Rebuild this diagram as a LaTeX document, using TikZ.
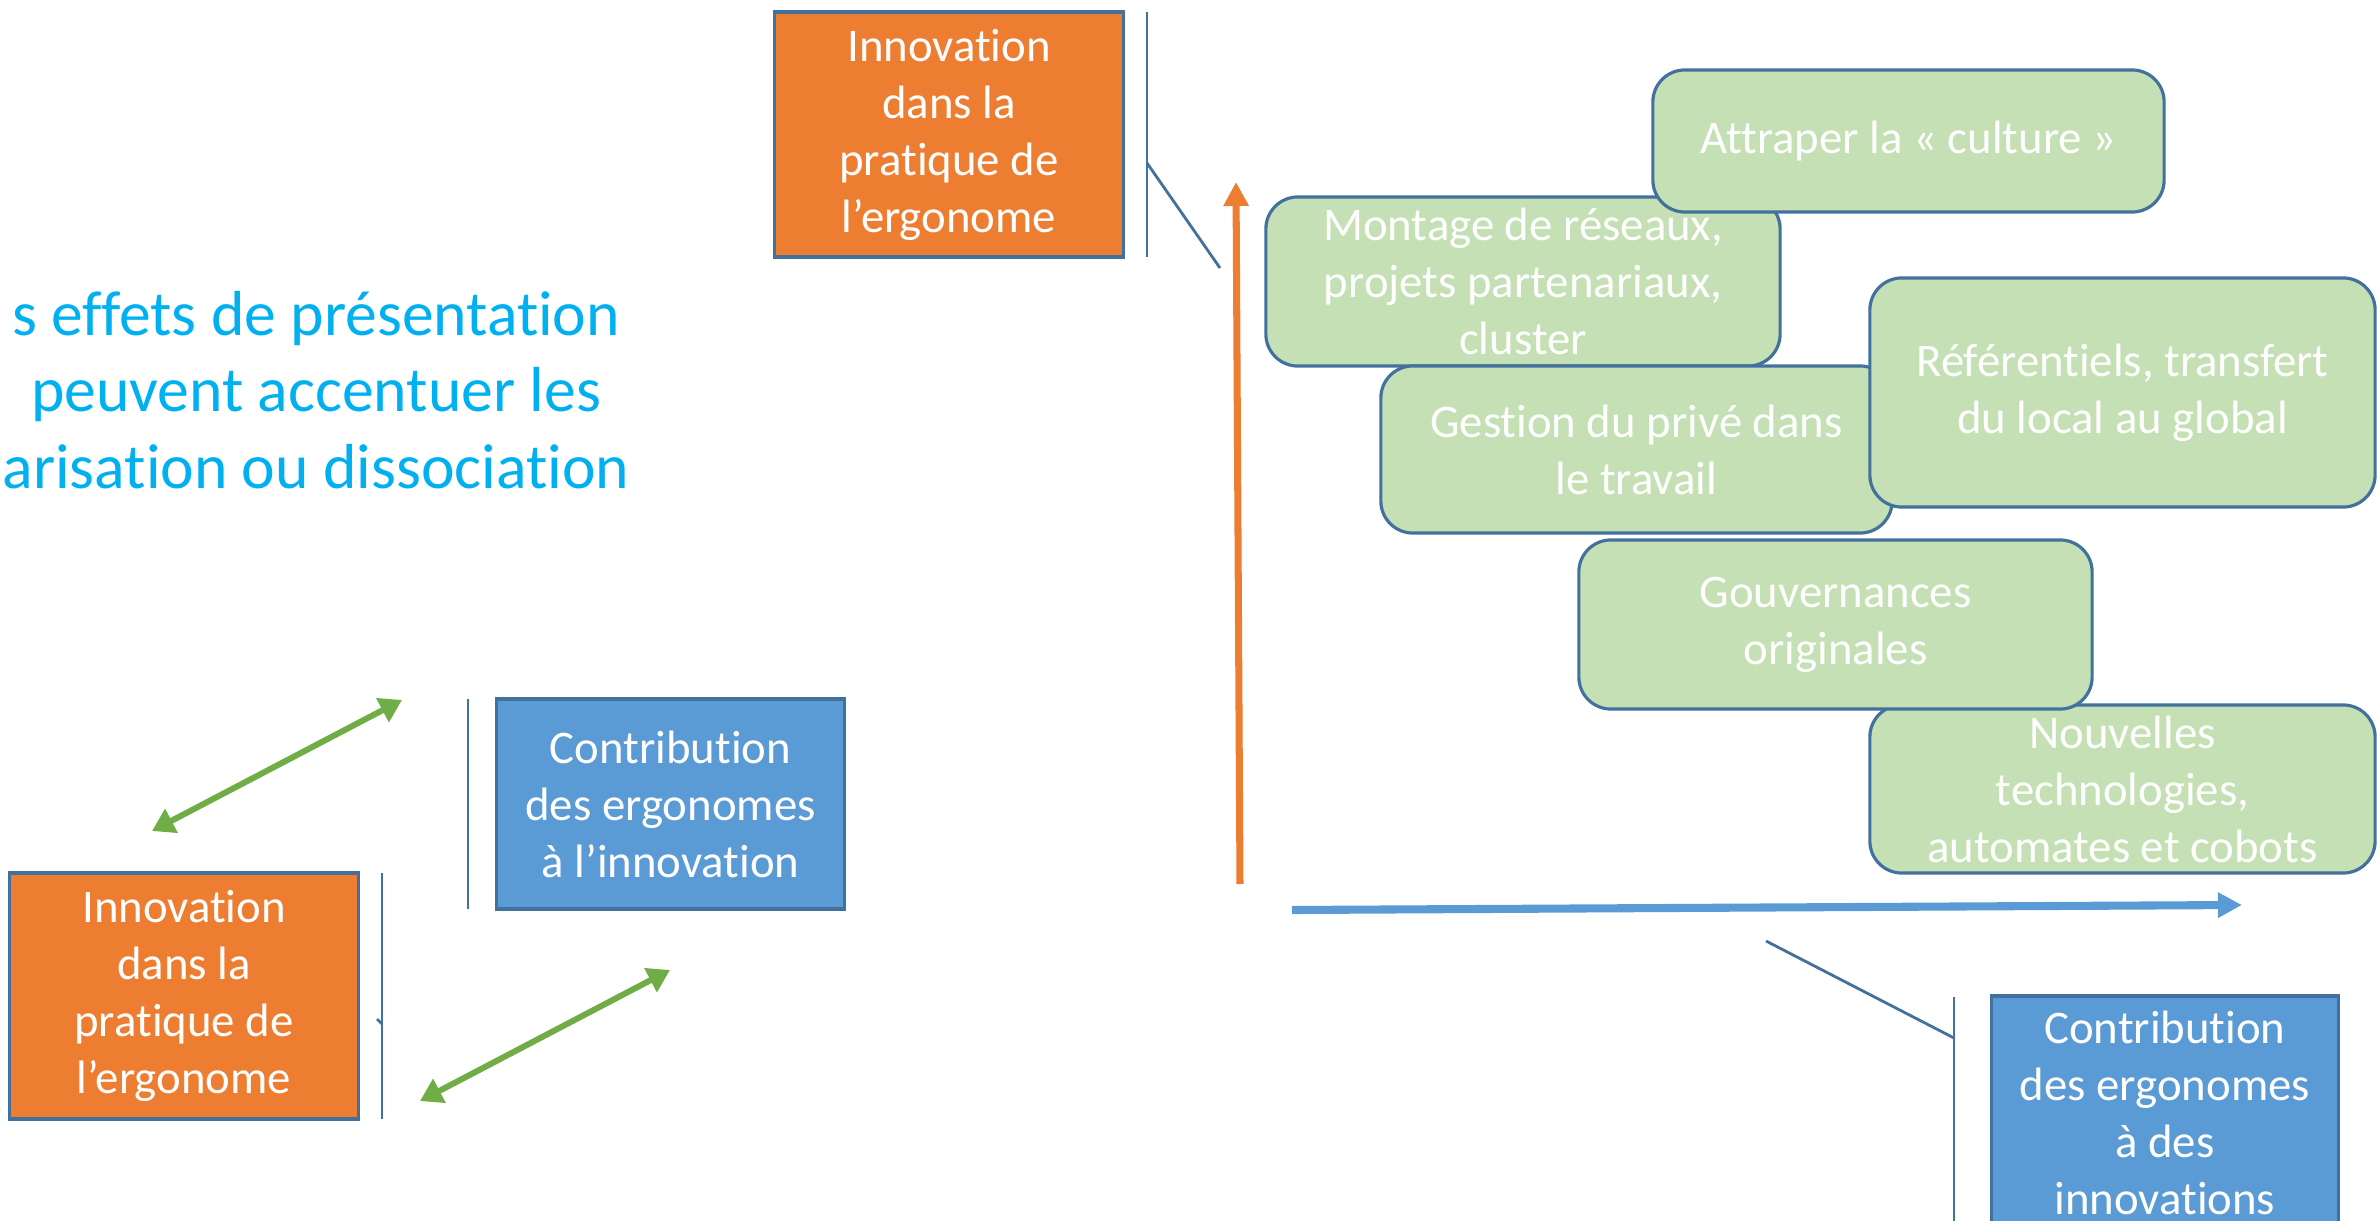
\documentclass[tikz,border=0pt]{standalone}
\usepackage{fontspec}
\setmainfont{Carlito}[Ligatures=NoCommon]
\usetikzlibrary{arrows.meta}

\definecolor{orangebox}{HTML}{ED7D31}
\definecolor{bluebox}{HTML}{5B9BD5}
\definecolor{greenbox}{HTML}{C5E0B4}
\definecolor{edgeblue}{HTML}{41719C}
\definecolor{arrowgreen}{HTML}{70AD47}
\definecolor{titleblue}{HTML}{00B0F0}

\tikzset{
  boxtext/.style={font=\fontsize{13.3}{16.2}\selectfont, text=white, align=center, inner sep=0pt},
  plainbox/.style={boxtext, rectangle, draw=edgeblue, line width=0.9pt},
  innobox/.style={plainbox, fill=orangebox, minimum width=3.48cm, minimum height=2.46cm},
  contribbox/.style={plainbox, fill=bluebox, minimum width=3.47cm},
  themebox/.style={boxtext, rectangle, rounded corners=0.32cm, draw=edgeblue, line width=0.9pt,
    fill=greenbox, minimum width=5.1cm},
  bar/.style={draw=edgeblue, line width=0.8pt},
  greenarrow/.style={draw=arrowgreen, line width=1.7pt,
    {Triangle[length=0.22cm,width=0.26cm]}-{Triangle[length=0.22cm,width=0.26cm]}},
}

\begin{document}
\begin{tikzpicture}[x=0.01cm, y=-0.01cm]
  \useasboundingbox (0,0) rectangle (2377,1221);

  % title
  \node[font=\fontsize{18.1}{21.8}\selectfont, text=titleblue, align=center, inner sep=0pt]
    (title) at (316,390) {s effets de présentation\\ peuvent accentuer les\\arisation ou dissociation};

  % left part
  \node[innobox] (innoleft) at (184,996) {Innovation\\dans la\\pratique de\\l’ergonome};
  \node[contribbox, minimum height=2.10cm] (contribleft) at (670.5,804) {Contribution\\des ergonomes\\à l’innovation};
  \draw[bar] (382,873) -- (382,1119);
  \draw[bar] (382,1024) -- (377,1019);
  \draw[bar] (468,699) -- (468,909);
  \coordinate (ga1) at (402,700);
  \coordinate (gb1) at (152,831);
  \coordinate (ga2) at (670,970);
  \coordinate (gb2) at (420,1101);
  \draw[greenarrow] (gb1) -- (ga1);
  \draw[greenarrow] (gb2) -- (ga2);

  % right part: axes
  \node[innobox, minimum height=2.45cm] (innotop) at (949,134.5) {Innovation\\dans la\\pratique de\\l’ergonome};
  \coordinate (bartop) at (1147,163);
  \draw[bar] (1147,12) -- (1147,257);
  \draw[bar] (bartop) -- (1220,268);

  \coordinate (vstart) at (1240,884);
  \coordinate (vend) at (1236,182);
  \draw[draw=orangebox, line width=2pt, -{Triangle[length=0.24cm,width=0.24cm]}] (vstart) -- (vend);
  \coordinate (hstart) at (1292,910);
  \coordinate (hend) at (2242,905);
  \draw[draw=bluebox, line width=2.3pt, -{Triangle[length=0.24cm,width=0.24cm]}] (hstart) -- (hend);

  \node[contribbox, minimum height=2.34cm] (contribright) at (2165,1113) {Contribution\\des ergonomes\\à des\\innovations};
  \draw[bar] (1954,997) -- (1954,1221);
  \draw[bar] (1954,1038) -- (1766,941);

  % themes
  \node[themebox, minimum width=5.14cm, minimum height=1.69cm] (montage) at (1523,281.5) {Montage de réseaux,\\projets partenariaux,\\cluster};
  \node[themebox, minimum width=5.11cm, minimum height=1.42cm] (culture) at (1908.5,141) {Attraper la « culture »};
  \node[themebox, minimum width=5.11cm, minimum height=1.67cm] (prive) at (1636.5,449.5) {Gestion du privé dans\\le travail};
  \node[themebox, minimum width=5.05cm, minimum height=2.29cm] (referentiels) at (2122.5,392.5) {Référentiels, transfert\\du local au global};
  \node[themebox, minimum width=5.05cm, minimum height=1.68cm] (technos) at (2122.5,789) {Nouvelles\\technologies,\\automates et cobots};
  \node[themebox, minimum width=5.13cm, minimum height=1.69cm] (gouvernances) at (1835.5,624.5) {Gouvernances\\originales};
\end{tikzpicture}
\end{document}
